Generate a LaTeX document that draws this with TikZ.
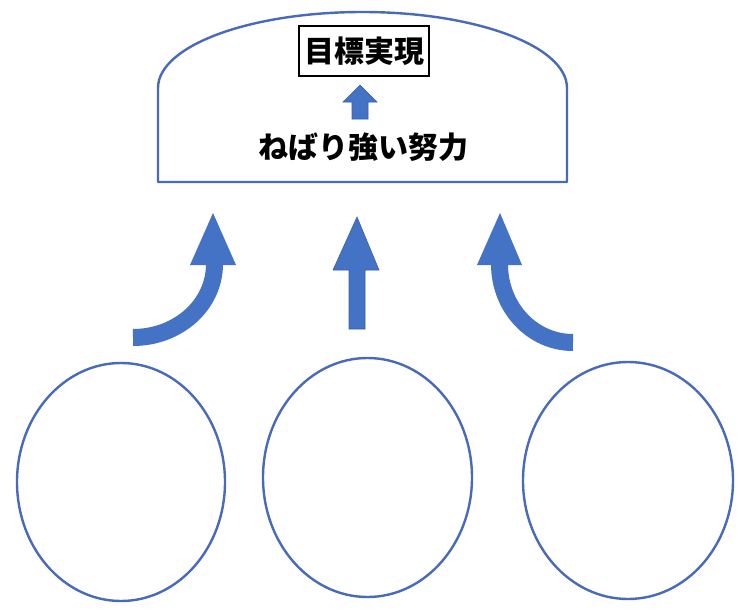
\documentclass[tikz,border=0pt]{standalone}
\usepackage{fontspec}
\newfontfamily\cjk{Noto Sans CJK JP}
\definecolor{oline}{RGB}{72,106,186}
\definecolor{afill}{RGB}{68,114,196}
\definecolor{aline}{RGB}{58,96,170}
\begin{document}
\begin{tikzpicture}[x=1pt,y=-1pt,
  outl/.style={draw=oline,line width=2.4pt},
  oval/.style={outl,ellipse,inner sep=0pt},
  blockarrow/.style={fill=afill,draw=aline,line width=0.6pt,line join=miter},
  curvshaft/.style={draw=afill,line width=17pt,line cap=butt},
  jtext/.style={font=\cjk\bfseries\fontsize{30}{34}\selectfont,inner sep=0pt}]
\useasboundingbox (0,0) rectangle (742,613);
\fill[white] (0,0) rectangle (742,613);
% top rounded shape
\draw[outl,line join=round] (158,182) -- (158,88)
  .. controls (158,46) and (249.5,12) .. (362.5,12)
  .. controls (475.5,12) and (567,46) .. (567,88)
  -- (567,182) -- cycle;
\coordinate (top) at (362.5,182);
\node[jtext,draw=black,line width=1.6pt,minimum width=130pt,minimum height=50pt] (goal) at (364,51) {目標実現};
\node[jtext] (effort) at (363,147) {ねばり強い努力};
% small arrow
\draw[blockarrow] (352,119) -- (352,102) -- (343,102) -- (360,85) -- (377,102) -- (368,102) -- (368,119) -- cycle;
% ellipses
\draw[outl] (121,482) ellipse [x radius=104, y radius=119];
\coordinate (e1) at (121,482);
\draw[outl] (367.5,477.5) ellipse [x radius=104.5, y radius=119.5];
\coordinate (e2) at (367.5,477.5);
\draw[outl] (628,480.5) ellipse [x radius=105, y radius=118.5];
\coordinate (e3) at (628,480.5);
% left curved arrow
\coordinate (lt) at (133,337.5);
\coordinate (lh) at (214.5,264);
\draw[curvshaft] (lt) .. controls (178,337.5) and (214.5,305) .. (lh);
\fill[afill] (190,265) -- (236,265) -- (213,213) -- cycle;
% middle arrow
\draw[blockarrow] (349,329) -- (349,270) -- (333,270) -- (357,217) -- (379,270) -- (365,270) -- (365,329) -- cycle;
% right curved arrow
\coordinate (rt) at (573,342.5);
\coordinate (rh) at (499.5,264);
\draw[curvshaft] (rt) .. controls (532.4,342.5) and (499.5,307.8) .. (rh);
\fill[afill] (477,265) -- (522,265) -- (500,213) -- cycle;
\end{tikzpicture}
\end{document}
